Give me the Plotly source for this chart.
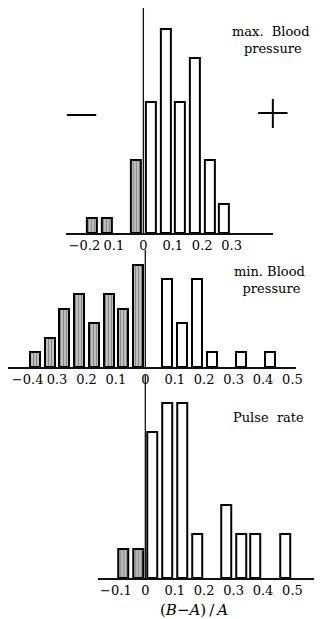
import plotly.graph_objects as go

# The page body has an 8 px margin, so the figure is drawn 8 px in from the
# top-left corner of the 322x619 window; reference pixel positions below
# are window pixels and are shifted by OFF.
OFF = 8
W, H = 322 - OFF, 619 - OFF

# ---- data (bin centres of (B-A)/A, counts) ----
max_bp_x = [-0.175, -0.125, -0.025, 0.025, 0.075, 0.125, 0.175, 0.225, 0.275]
max_bp_n = [1, 1, 5, 9, 14, 9, 12, 5, 2]

min_bp_x = [-0.375, -0.325, -0.275, -0.225, -0.175, -0.125, -0.075, -0.025,
            0.075, 0.125, 0.175, 0.225, 0.325, 0.425]
min_bp_n = [1, 2, 4, 5, 3, 5, 4, 7, 6, 3, 6, 1, 1, 1]

pulse_x = [-0.075, -0.025, 0.025, 0.075, 0.125, 0.175, 0.275, 0.325, 0.375, 0.475]
pulse_n = [2, 2, 10, 12, 12, 3, 5, 3, 3, 3]

ticks1 = [-0.2, -0.1, 0, 0.1, 0.2, 0.3]
labels1 = ["\u22120.2", "0.1", "0", "0.1", "0.2", "0.3"]
ticks2 = [-0.4, -0.3, -0.2, -0.1, 0, 0.1, 0.2, 0.3, 0.4, 0.5]
labels2 = ["\u22120.4", "0.3", "0.2", "0.1", "0", "0.1", "0.2", "0.3", "0.4", "0.5"]
ticks3 = [-0.1, 0, 0.1, 0.2, 0.3, 0.4, 0.5]
labels3 = ["\u22120.1", "0", "0.1", "0.2", "0.3", "0.4", "0.5"]

FONT = "DejaVu Serif"
PX_PER_UNIT = 300.0   # pixels per 1.0 of (B-A)/A
PX_PER_COUNT = 14.6


def fx(px):
    return (px - OFF) / W


def fy(py):
    return 1 - (py - OFF) / H


fig = go.Figure()

panels = [
    # (x, n, suffix, zero_px, left_px, right_px, base_py, top_py, ticks, labels)
    (max_bp_x, max_bp_n, "", 146, 67, 278, 233, 8, ticks1, labels1),
    (min_bp_x, min_bp_n, "2", 148, 8, 302, 367, 250, ticks2, labels2),
    (pulse_x, pulse_n, "3", 148, 100, 322, 578, 375, ticks3, labels3),
]

hatch = dict(shape="|", fgcolor="#111", bgcolor="white", size=3, solidity=0.7)

for xs, ns, sfx, zero, lpx, rpx, bpy, tpy, tv, tt in panels:
    neg_x = [x for x in xs if x < 0]
    neg_n = [n for x, n in zip(xs, ns) if x < 0]
    pos_x = [x for x in xs if x > 0]
    pos_n = [n for x, n in zip(xs, ns) if x > 0]
    xa = "x" + sfx
    ya = "y" + sfx
    fig.add_trace(go.Bar(x=neg_x, y=neg_n, width=0.034, xaxis=xa, yaxis=ya,
                         marker=dict(color="white", pattern=hatch,
                                     line=dict(color="black", width=2)),
                         showlegend=False))
    fig.add_trace(go.Bar(x=pos_x, y=pos_n, width=0.034, xaxis=xa, yaxis=ya,
                         marker=dict(color="white",
                                     line=dict(color="black", width=2)),
                         showlegend=False))
    xkey = "xaxis" + sfx
    ykey = "yaxis" + sfx
    fig.update_layout({
        xkey: dict(domain=[max(fx(lpx), 0), min(fx(rpx), 1)],
                   range=[(lpx - zero) / PX_PER_UNIT, (rpx - zero) / PX_PER_UNIT],
                   anchor=ya, showline=True, linecolor="#111", linewidth=1.5,
                   showgrid=False, zeroline=False, ticks="",
                   tickvals=tv, ticktext=tt,
                   tickfont=dict(family=FONT, size=13, color="black"),
                   fixedrange=True),
        ykey: dict(domain=[fy(bpy), min(fy(tpy), 1)],
                   range=[0, (bpy - max(tpy, OFF)) / PX_PER_COUNT],
                   anchor=xa, visible=False, showgrid=False, fixedrange=True),
    })
    fig.add_shape(type="line", xref=xa, yref=ya + " domain",
                  x0=0, x1=0, y0=0, y1=1,
                  line=dict(color="#111", width=1.3), layer="above")

ann_font = dict(family=FONT, size=13, color="black")
annotations = [
    dict(text="max.&nbsp;&nbsp;Blood<br>&nbsp;pressure", x=fx(276), y=fy(40)),
    dict(text="min.&nbsp;Blood<br>&nbsp;pressure", x=fx(275), y=fy(280)),
    dict(text="Pulse&nbsp;&nbsp;rate", x=fx(274), y=fy(418)),
]
for a in annotations:
    fig.add_annotation(xref="paper", yref="paper", xanchor="center",
                       yanchor="middle", align="center", showarrow=False,
                       font=ann_font, **a)
fig.add_annotation(xref="paper", yref="paper", xanchor="center", yanchor="middle",
                   showarrow=False, x=fx(198), y=fy(610),
                   text="(<i>B</i>\u2212<i>A</i>)\u2009/\u2009<i>A</i>",
                   font=dict(family=FONT, size=15, color="black"))

# sign markers for the negative / positive sides (thin strokes)
sign = dict(color="black", width=2)
fig.add_shape(type="line", xref="paper", yref="paper",
              x0=fx(68), x1=fx(98), y0=fy(115), y1=fy(115), line=sign)
fig.add_shape(type="line", xref="paper", yref="paper",
              x0=fx(263), x1=fx(293), y0=fy(113), y1=fy(113), line=sign)
fig.add_shape(type="line", xref="paper", yref="paper",
              x0=fx(278), x1=fx(278), y0=fy(99), y1=fy(128), line=sign)

fig.update_layout(width=W, height=H, margin=dict(l=0, r=0, t=0, b=0),
                  paper_bgcolor="white", plot_bgcolor="rgba(0,0,0,0)",
                  barmode="overlay", bargap=0)

fig.write_html("out.html", config=dict(displayModeBar=False))
